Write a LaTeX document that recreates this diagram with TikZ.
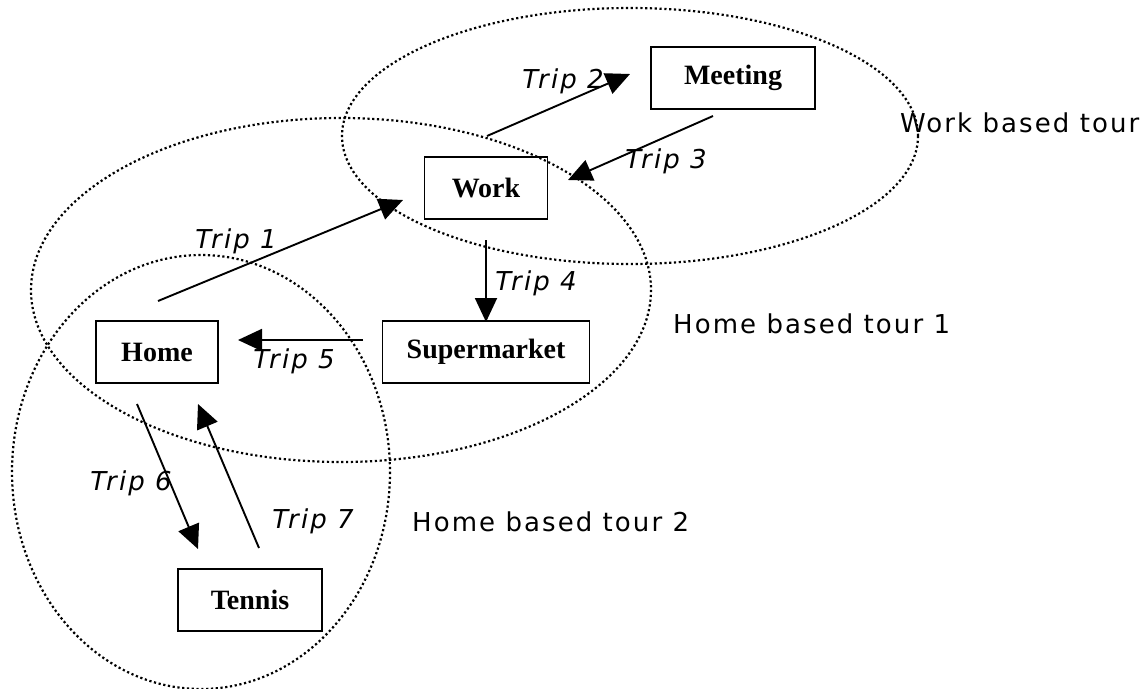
\documentclass[tikz,border=0pt]{standalone}
\usepackage{fontspec}
\usetikzlibrary{arrows.meta}
\newfontfamily\boxfont{Liberation Serif}
\newfontfamily\tripfont[LetterSpace=8]{DejaVu Sans}
\begin{document}
\begin{tikzpicture}[x=1pt,y=-1pt,
  place/.style={draw,line width=1.4pt,minimum width=#1,minimum height=62pt,inner sep=0pt,font=\boxfont\bfseries\fontsize{28}{30}\selectfont},
  tour/.style={draw,line width=2.2pt,dash pattern=on 2.2pt off 2.6pt},
  trip/.style={line width=1.9pt,-{Triangle[length=24pt,width=22pt]}},
  tlabel/.style={font=\tripfont\itshape\fontsize{26}{28}\selectfont,inner sep=0pt},
  tourlabel/.style={font=\tripfont\fontsize{26}{28}\selectfont,inner sep=0pt,anchor=west}]
\useasboundingbox (0,0) rectangle (1147,688);
% tours
\draw[tour] (630,136) ellipse [x radius=288, y radius=128];
\draw[tour] (341,290) ellipse [x radius=310, y radius=172];
\draw[tour] (201,472) ellipse [x radius=189, y radius=217];
% places
\node[place=164pt] (meeting) at (733,78) {Meeting};
\node[place=123pt] (work) at (486,188) {Work};
\node[place=122pt] (home) at (157,352) {Home};
\node[place=207pt] (super) at (486,352) {Supermarket};
\node[place=144pt] (tennis) at (250,600) {Tennis};
% trip endpoints
\coordinate (t1a) at (158,301); \coordinate (t1b) at (403,200);
\coordinate (t2a) at (487,136); \coordinate (t2b) at (630,74);
\coordinate (t3a) at (713,116); \coordinate (t3b) at (568,180);
\coordinate (t4a) at (486,240); \coordinate (t4b) at (486,322);
\coordinate (t5a) at (363,340); \coordinate (t5b) at (238,340);
\coordinate (t6a) at (137,404); \coordinate (t6b) at (198,549);
\coordinate (t7a) at (259,548); \coordinate (t7b) at (198,404);
\draw[trip] (t1a) -- (t1b);
\draw[trip] (t2a) -- (t2b);
\draw[trip] (t3a) -- (t3b);
\draw[trip] (t4a) -- (t4b);
\draw[trip] (t5a) -- (t5b);
\draw[trip] (t6a) -- (t6b);
\draw[trip] (t7a) -- (t7b);
% trip labels
\node[tlabel] (l1) at (236,241) {Trip 1};
\node[tlabel] (l2) at (563,81) {Trip 2};
\node[tlabel] (l3) at (666,161) {Trip 3};
\node[tlabel] (l4) at (536,283) {Trip 4};
\node[tlabel] (l5) at (294,361) {Trip 5};
\node[tlabel] (l6) at (131,483) {Trip 6};
\node[tlabel] (l7) at (313,521) {Trip 7};
% tour labels
\node[tourlabel] (w) at (900,123) {Work based tour};
\node[tourlabel] (h1) at (673,324) {Home based tour 1};
\node[tourlabel] (h2) at (412,522) {Home based tour 2};
\end{tikzpicture}
\end{document}
